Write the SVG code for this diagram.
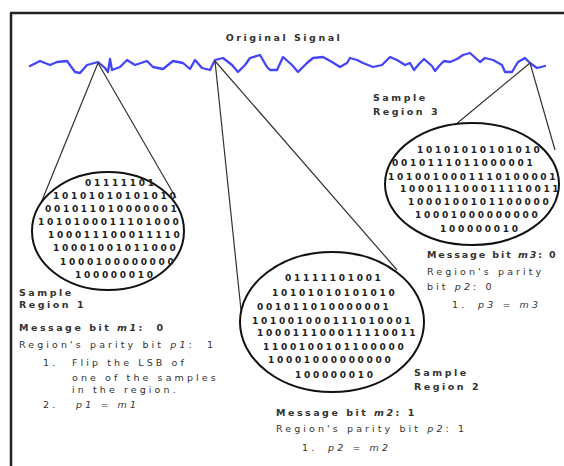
<svg xmlns="http://www.w3.org/2000/svg" width="564" height="466" viewBox="0 0 564 466">
<style>
text{white-space:pre}
.bits{font-family:"DejaVu Sans",sans-serif;font-size:9px;font-weight:bold;letter-spacing:2.7px;fill:#222}
.lbl{font-family:"DejaVu Sans",sans-serif;font-size:9.5px;font-weight:bold;letter-spacing:2.5px;fill:#333}
.lt{font-family:"DejaVu Sans",sans-serif;font-size:9.5px;letter-spacing:3.1px;fill:#333}
.it{font-style:italic}
.ell{fill:none;stroke:#111;stroke-width:2}
.con{stroke:#333;stroke-width:1.2;fill:none}
</style>
<rect width="564" height="466" fill="#fff"/>
<g id="frame" stroke="#222" stroke-width="2.5" fill="none">
<line x1="10" y1="13" x2="564" y2="13"/>
<line x1="11" y1="13" x2="11" y2="466"/>
</g>
<g id="signal">
<text class="lbl" x="284" y="41" text-anchor="middle">Original Signal</text>
<polyline fill="none" stroke="#4545f5" stroke-width="2.3" stroke-linejoin="round" stroke-linecap="round" points="30,66 40,61 50,65 57,62 67,61 75,72 80,73 87,65 98,62 105,68 108,72 110,59 112,70 120,67 127,60 135,65 147,61 153,67 163,69 173,61 183,63 190,69 195,60 202,68 210,70 215,60 223,58 232,65 238,72 245,65 250,58 260,55 267,67 270,70 277,70 283,57 292,65 298,72 307,63 313,58 323,57 332,62 340,67 347,63 350,58 357,60 363,63 373,67 382,65 390,57 397,60 405,65 410,63 414,70 419,64 424,59 432,66 435,71 439,66 444,61 450,62 457,59 463,55 470,53 480,62 485,58 493,60 502,65 505,72 512,72 518,62 525,58 530,63 537,68 545,66"/>
</g>
<g id="connectors">
<line class="con" x1="98" y1="63" x2="41" y2="203"/>
<line class="con" x1="98" y1="63" x2="176" y2="198"/>
<line class="con" x1="215" y1="61" x2="241" y2="310"/>
<line class="con" x1="215" y1="61" x2="397" y2="270"/>
<line class="con" x1="530" y1="63" x2="455" y2="125"/>
<line class="con" x1="530" y1="63" x2="555" y2="150"/>
</g>
<g id="region1">
<ellipse class="ell" cx="108" cy="231" rx="76" ry="59"/>
<text class="bits" x="85" y="186">01111101</text>
<text class="bits" x="53" y="199">10101010101010</text>
<text class="bits" x="45" y="212">001011010000001</text>
<text class="bits" x="38" y="225">1010100011101000</text>
<text class="bits" x="48" y="238">100011100011110</text>
<text class="bits" x="53" y="251">10001001011000</text>
<text class="bits" x="60" y="265">1000100000000</text>
<text class="bits" x="75" y="278">100000010</text>
<text class="lbl" x="19" y="296">Sample</text>
<text class="lbl" x="19" y="308">Region 1</text>
<text class="lbl" x="19" y="331">Message bit <tspan class="it">m1</tspan>:  0</text>
<text class="lt" x="19" y="348">Region's parity bit <tspan class="it">p1</tspan>:  1</text>
<text class="lt" x="43" y="366">1.</text>
<text class="lt" x="72" y="366">Flip the LSB of</text>
<text class="lt" x="72" y="381">one of the samples</text>
<text class="lt" x="72" y="393">in the region.</text>
<text class="lt" x="43" y="408">2.</text>
<text class="lt it" x="76" y="408">p1 = m1</text>
</g>
<g id="region2">
<ellipse class="ell" cx="332" cy="322" rx="92" ry="70"/>
<text class="bits" x="285" y="281">01111101001</text>
<text class="bits" x="272" y="296">10101010101010</text>
<text class="bits" x="257" y="310">001011010000001</text>
<text class="bits" x="252" y="324">101001000111010001</text>
<text class="bits" x="257" y="336">100011100011110011</text>
<text class="bits" x="263" y="350">1100100101100000</text>
<text class="bits" x="268" y="363">10001000000000</text>
<text class="bits" x="295" y="378">100000010</text>
<text class="lbl" x="414" y="376">Sample</text>
<text class="lbl" x="414" y="390">Region 2</text>
<text class="lbl" x="276" y="416">Message bit <tspan class="it">m2</tspan>: 1</text>
<text class="lt" x="276" y="432">Region's parity bit <tspan class="it">p2</tspan>: 1</text>
<text class="lt" x="302" y="451">1.</text>
<text class="lt it" x="328" y="451">p2 = m2</text>
</g>
<g id="region3">
<ellipse class="ell" cx="472" cy="184" rx="87" ry="61"/>
<text class="bits" x="417" y="153">10101010101010</text>
<text class="bits" x="392" y="166">0010111011000001</text>
<text class="bits" x="388" y="180">1010010001110100001</text>
<text class="bits" x="400" y="192">100011100011110011</text>
<text class="bits" x="408" y="205">1000100101100000</text>
<text class="bits" x="415" y="218">10001000000000</text>
<text class="bits" x="440" y="232">100000010</text>
<text class="lbl" x="373" y="101">Sample</text>
<text class="lbl" x="373" y="115">Region 3</text>
<text class="lbl" x="427" y="258" style="letter-spacing:1.9px">Message bit <tspan class="it">m3</tspan>: 0</text>
<text class="lt" x="427" y="275">Region's parity</text>
<text class="lt" x="427" y="290">bit <tspan class="it">p2</tspan>: 0</text>
<text class="lt" x="452" y="308">1.</text>
<text class="lt it" x="478" y="308">p3 = m3</text>
</g>
</svg>
